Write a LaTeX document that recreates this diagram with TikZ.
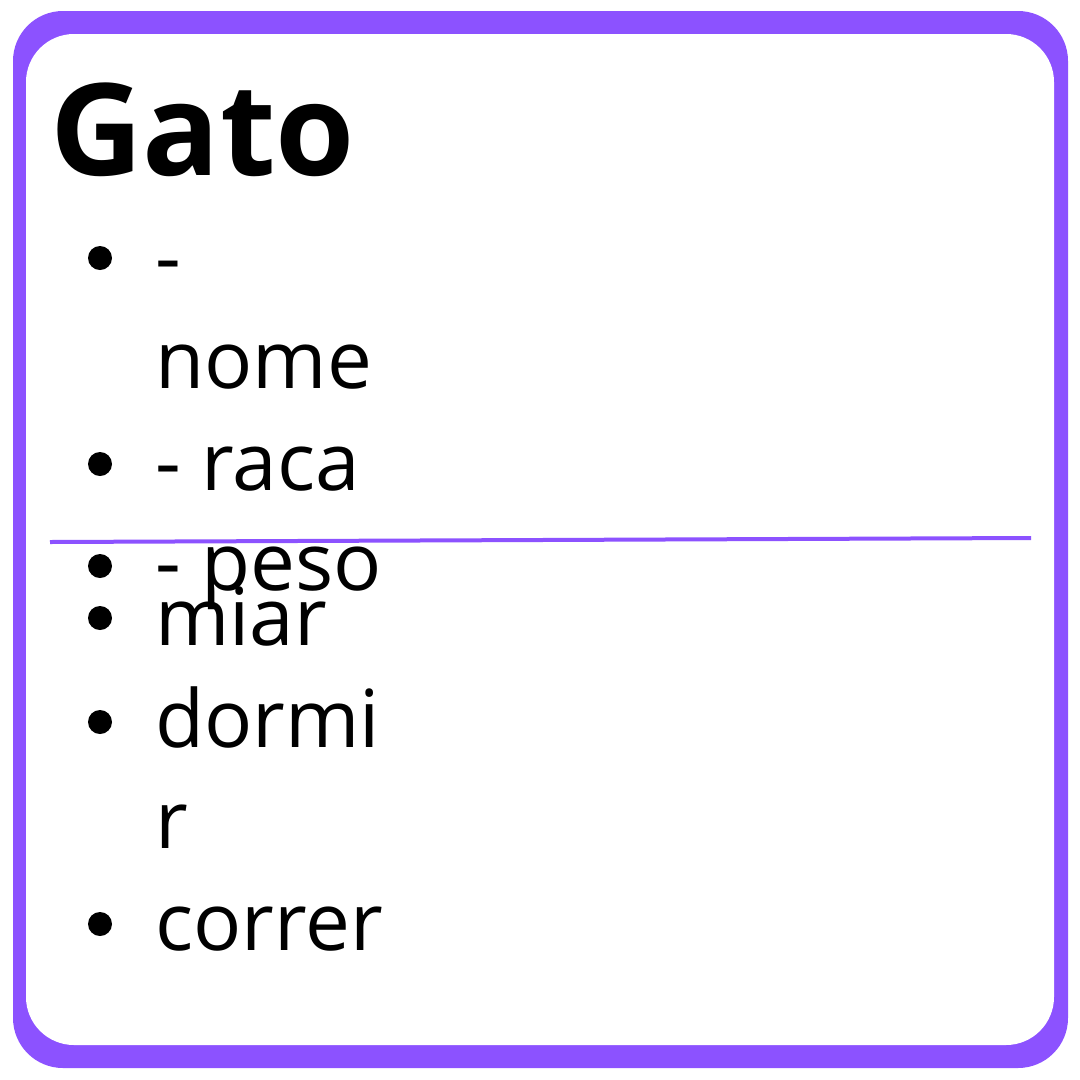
\documentclass[tikz,border=0pt]{standalone}
\usepackage{fontspec}
\setmainfont{Open Sans}
\definecolor{catpurple}{HTML}{8C52FF}
\tikzset{
	item/.style = {anchor = base west, inner sep = 0, font = \fontsize{80}{96}\selectfont},
	dot/.style = {circle, fill = black, minimum size = 24, inner sep = 0}
}

\begin{document}
\begin{tikzpicture}[x = 1pt, y = -1pt]

	\useasboundingbox (0, 0) rectangle (1080, 1080);

	% Frame

	\fill [catpurple, rounded corners = 50] (13, 11) rectangle (1068, 1068);
	\fill [white, rounded corners = 48] (26, 34) rectangle (1054, 1045);

	% Title

	\node [anchor = base west, inner sep = 0, font = \fontsize{128}{144}\bfseries] (title) at (50, 175) {Gato};

	% Attributes

	\node [dot] (d1) at (100, 258) {};
	\node [item] (a1) at (155, 285) {-};
	\node [item] (a1b) at (155, 388) {nome};
	\node [dot] (d2) at (100, 464) {};
	\node [item] (a2) at (155, 490) {- raca};
	\node [dot] (d3) at (100, 566) {};
	\node [item] (a3) at (155, 590) {- peso};

	% Divider

	\coordinate (sl) at (50, 542);
	\coordinate (sr) at (1031, 538);
	\draw [catpurple, line width = 4] (sl) -- (sr);

	% Methods

	\node [dot] (d4) at (100, 618) {};
	\node [item] (m1) at (155, 645) {miar};
	\node [dot] (d5) at (100, 722) {};
	\node [item] (m2) at (155, 747) {dormi};
	\node [item] (m2b) at (155, 848) {r};
	\node [dot] (d6) at (100, 924) {};
	\node [item] (m3) at (155, 950) {correr};

\end{tikzpicture}
\end{document}
